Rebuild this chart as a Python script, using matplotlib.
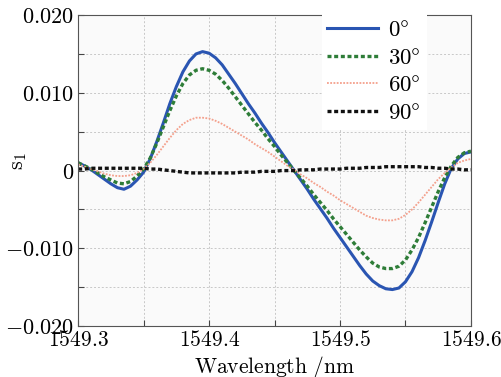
import numpy as np
import matplotlib
matplotlib.use('Agg')
import matplotlib.pyplot as plt
from matplotlib.ticker import FixedLocator, FixedFormatter

plt.rcParams['mathtext.fontset'] = 'cm'

# wavelength samples (nm)
wl = [1549.300, 1549.305, 1549.310, 1549.315, 1549.320, 1549.325, 1549.330, 1549.335,
      1549.340, 1549.345, 1549.350, 1549.355, 1549.360, 1549.365, 1549.370, 1549.375,
      1549.380, 1549.385, 1549.390, 1549.395, 1549.400, 1549.405, 1549.410, 1549.415,
      1549.420, 1549.425, 1549.430, 1549.435, 1549.440, 1549.445, 1549.450, 1549.455,
      1549.460, 1549.465, 1549.470, 1549.475, 1549.480, 1549.485, 1549.490, 1549.495,
      1549.500, 1549.505, 1549.510, 1549.515, 1549.520, 1549.525, 1549.530, 1549.535,
      1549.540, 1549.545, 1549.550, 1549.555, 1549.560, 1549.565, 1549.570, 1549.575,
      1549.580, 1549.585, 1549.590, 1549.595, 1549.600]

s1_0 = [0.0010, 0.0006, 0.0001, -0.0005, -0.0011, -0.0017, -0.0022, -0.0024,
        -0.0020, -0.0012, -0.0002, 0.0015, 0.0037, 0.0061, 0.0086, 0.0108,
        0.0127, 0.0141, 0.0150, 0.0153, 0.0151, 0.0145, 0.0136, 0.0124,
        0.0112, 0.0099, 0.0086, 0.0074, 0.0061, 0.0049, 0.0036, 0.0024,
        0.0012, 0.0000, -0.0012, -0.0024, -0.0037, -0.0049, -0.0061, -0.0074,
        -0.0086, -0.0098, -0.0110, -0.0122, -0.0133, -0.0142, -0.0148, -0.0152,
        -0.0153, -0.0151, -0.0143, -0.0130, -0.0112, -0.0090, -0.0066, -0.0041,
        -0.0017, 0.0003, 0.0015, 0.0022, 0.0024]

s1_30 = [0.0010, 0.0006, 0.0002, -0.0003, -0.0008, -0.0012, -0.0016, -0.0017,
         -0.0014, -0.0007, 0.0002, 0.0016, 0.0035, 0.0056, 0.0077, 0.0096,
         0.0112, 0.0123, 0.0129, 0.0131, 0.0129, 0.0124, 0.0116, 0.0106,
         0.0095, 0.0084, 0.0073, 0.0062, 0.0052, 0.0041, 0.0031, 0.0020,
         0.0010, 0.0000, -0.0010, -0.0020, -0.0031, -0.0041, -0.0051, -0.0062,
         -0.0072, -0.0082, -0.0092, -0.0102, -0.0111, -0.0119, -0.0124, -0.0126,
         -0.0126, -0.0123, -0.0115, -0.0102, -0.0086, -0.0067, -0.0047, -0.0027,
         -0.0009, 0.0006, 0.0017, 0.0023, 0.0025]

s1_60 = [0.0008, 0.0005, 0.0002, -0.0001, -0.0004, -0.0006, -0.0007, -0.0007,
         -0.0006, -0.0003, 0.0002, 0.0010, 0.0020, 0.0031, 0.0042, 0.0052,
         0.0060, 0.0065, 0.0068, 0.0068, 0.0067, 0.0064, 0.0060, 0.0055,
         0.0050, 0.0045, 0.0040, 0.0034, 0.0029, 0.0024, 0.0018, 0.0012,
         0.0006, 0.0001, -0.0005, -0.0010, -0.0016, -0.0021, -0.0027, -0.0032,
         -0.0038, -0.0043, -0.0048, -0.0053, -0.0058, -0.0061, -0.0063, -0.0064,
         -0.0064, -0.0062, -0.0057, -0.0050, -0.0041, -0.0031, -0.0021, -0.0011,
         -0.0003, 0.0004, 0.0010, 0.0013, 0.0015]

s1_90 = [0.0002, 0.0002, 0.0003, 0.0003, 0.0003, 0.0003, 0.0003, 0.0003,
         0.0003, 0.0003, 0.0003, 0.0002, 0.0002, 0.0001, 0.0000, -0.0001,
         -0.0002, -0.0003, -0.0003, -0.0003, -0.0003, -0.0003, -0.0003, -0.0003,
         -0.0003, -0.0002, -0.0002, -0.0002, -0.0001, -0.0001, -0.0001, 0.0000,
         0.0000, 0.0000, 0.0001, 0.0001, 0.0001, 0.0002, 0.0002, 0.0002,
         0.0002, 0.0003, 0.0003, 0.0003, 0.0004, 0.0004, 0.0004, 0.0005,
         0.0005, 0.0005, 0.0005, 0.0005, 0.0005, 0.0004, 0.0004, 0.0003,
         0.0003, 0.0002, 0.0002, 0.0001, 0.0001]

labels = [r'$0\degree$', r'$30\degree$', r'$60\degree$', r'$90\degree$']

xticks = [1549.30, 1549.35, 1549.40, 1549.45, 1549.50, 1549.55, 1549.60]
xticklabels = [r'$1549.3$', '', r'$1549.4$', '', r'$1549.5$', '', r'$1549.6$']
yticks = [-0.020, -0.015, -0.010, -0.005, 0.0, 0.005, 0.010, 0.015, 0.020]
yticklabels = [r'$-0.020$', '', r'$-0.010$', '', r'$0$', '', r'$0.010$', '', r'$0.020$']

fig = plt.figure(figsize=(5.01, 3.77), dpi=100)
fig.patch.set_facecolor('white')
ax = fig.add_axes([0.156, 0.135, 0.784, 0.825])
ax.set_facecolor('#fafafa')

ax.plot(wl, s1_0, color='#2a55b2', lw=2.2, ls='-', label=labels[0])
ax.plot(wl, s1_30, color='#2e7d38', lw=2.4, ls=(0, (1.2, 0.8)), label=labels[1])
ax.plot(wl, s1_60, color='#f4a08c', lw=1.3, ls=(0, (1, 0.8)), label=labels[2])
ax.plot(wl, s1_90, color='#111111', lw=2.4, ls=(0, (1.2, 0.8)), label=labels[3])

ax.set_xlim(1549.3, 1549.6)
ax.set_ylim(-0.02, 0.02)
ax.xaxis.set_major_locator(FixedLocator(xticks))
ax.xaxis.set_major_formatter(FixedFormatter(xticklabels))
ax.yaxis.set_major_locator(FixedLocator(yticks))
ax.yaxis.set_major_formatter(FixedFormatter(yticklabels))
ax.tick_params(direction='in', length=4, color='#444444', pad=3)
ax.tick_params(axis='x', labelsize=15.5)
ax.tick_params(axis='y', labelsize=16)
ax.grid(True, ls=(0, (2, 2)), color='#c8c8c8', lw=0.7)
for sp in ax.spines.values():
    sp.set_color('#555555')

ax.set_xlabel(r'$\mathrm{Wavelength\ /nm}$', fontsize=15.5, labelpad=3)
ax.set_ylabel(r'$\mathrm{s}_1$', fontsize=16)
ax.yaxis.set_label_coords(-0.125, 0.53)

leg = ax.legend(loc='upper left', bbox_to_anchor=(0.62, 1.008), frameon=True, fontsize=16.5,
                handlelength=2.2, handletextpad=0.45, labelspacing=0.2, borderpad=0.25,
                borderaxespad=0.0, fancybox=False)
leg.get_frame().set_facecolor('white')
leg.get_frame().set_edgecolor('none')
leg.get_frame().set_alpha(1.0)

fig.savefig('out.png', dpi=100)
